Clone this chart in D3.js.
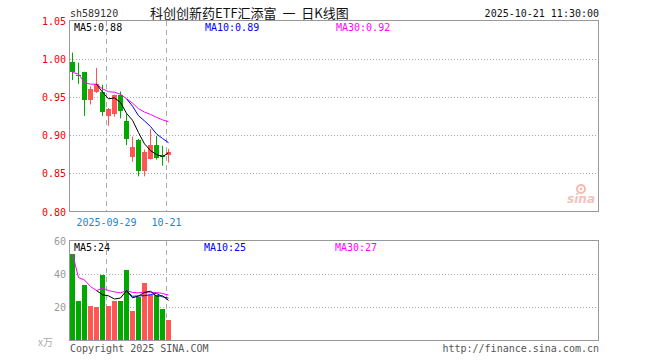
<!DOCTYPE html>
<html>
<head>
<meta charset="utf-8">
<script src="https://cdn.jsdelivr.net/npm/d3@7"></script>
<style>
  body { margin: 0; background: #fff; }
  text { font-family: "DejaVu Sans Mono", monospace; font-size: 10px; white-space: pre; }
</style>
</head>
<body>
<script>
// daily data
var dates = ["2025-09-19","2025-09-22","2025-09-23","2025-09-24","2025-09-25","2025-09-26",
  "2025-09-29","2025-09-30","2025-10-09","2025-10-10","2025-10-13","2025-10-14",
  "2025-10-15","2025-10-16","2025-10-17","2025-10-20","2025-10-21"]
var opens  = [0.996,0.979,0.982,0.946,0.956,0.957,0.925,0.927,0.952,0.918,0.871,0.894,0.853,0.869,0.887,0.874,0.8745]
var highs  = [1.008,0.995,0.983,0.964,0.988,0.966,0.9355,0.953,0.957,0.928,0.898,0.895,0.881,0.908,0.899,0.886,0.882]
var lows   = [0.972,0.967,0.925,0.940,0.955,0.925,0.912,0.924,0.922,0.887,0.865,0.846,0.846,0.868,0.868,0.860,0.864]
var closes = [0.982,0.978,0.946,0.9605,0.967,0.930,0.934,0.952,0.931,0.8955,0.885,0.853,0.878,0.887,0.870,0.871,0.878]
var volumes = [51.9,23.7,33.3,20.7,20.1,39.3,20.7,23.7,23.7,42.3,17.7,26.1,34.5,27.3,27.3,18.9,12.3]

var priceTicks = [1.05,1.00,0.95,0.90,0.85,0.80]
var volTicks = [60,40,20]
var markDays = ["2025-09-29","2025-10-21"]
var markLabels = ["2025-09-29","10-21"]

var width = 660
var height = 360
var red = "#ff5555", green = "#00a800"

var svg = d3.select("body")
  .append("svg")
    .attr("width", width)
    .attr("height", height)

// scales: one slot of 6px per trading day
var x = d3.scaleLinear().domain([0, 88]).range([70, 598])
var y = d3.scaleLinear().domain([0.80, 1.05]).range([211.5, 20.5])
var yv = d3.scaleLinear().domain([0, 60]).range([340.5, 240.5])

// moving averages (cumulative mean until the window is full for MA30)
function ma(arr, n, full) {
  return arr.map(function(d, i) {
    if (i < n - 1 && full) return null
    var s = arr.slice(Math.max(0, i - n + 1), i + 1)
    return d3.mean(s)
  })
}
var pMA5 = ma(closes, 5, true), pMA10 = ma(closes, 10, true), pMA30 = ma(closes, 30, false)
var vMA5 = ma(volumes, 5, true), vMA10 = ma(volumes, 10, true), vMA30 = ma(volumes, 30, false)

// header
svg.append("text").attr("x", 70).attr("y", 17).attr("fill", "#333").text("sh589120")
svg.append("text").attr("x", 150).attr("y", 18)
  .style("font-family", "'Noto Sans CJK SC', sans-serif").style("font-size", "13px")
  .attr("fill", "#111").text("科创创新药ETF汇添富  一  日K线图")
svg.append("text").attr("x", 599).attr("y", 17).attr("text-anchor", "end").attr("fill", "#111")
  .text("2025-10-21 11:30:00")

// grid lines
var grid = svg.append("g").attr("shape-rendering", "crispEdges")
grid.selectAll(".pg").data(priceTicks.slice(1, 5)).enter().append("line")
  .attr("x1", 70).attr("x2", 598)
  .attr("y1", function(d){ return Math.round(y(d)) + 0.5 }).attr("y2", function(d){ return Math.round(y(d)) + 0.5 })
  .attr("stroke", "#aaa").attr("stroke-dasharray", "1,2")
grid.selectAll(".vg").data([40, 20]).enter().append("line")
  .attr("x1", 70).attr("x2", 598)
  .attr("y1", function(d){ return Math.round(yv(d)) + 0.5 }).attr("y2", function(d){ return Math.round(yv(d)) + 0.5 })
  .attr("stroke", "#aaa").attr("stroke-dasharray", "1,2")

// dashed day markers through both panels
markDays.forEach(function(d) {
  var xi = x(dates.indexOf(d)) + 0.5
  grid.append("line").attr("x1", xi).attr("x2", xi).attr("y1", 21).attr("y2", 211)
    .attr("stroke", "#aaa").attr("stroke-dasharray", "5,4")
  grid.append("line").attr("x1", xi).attr("x2", xi).attr("y1", 241).attr("y2", 340)
    .attr("stroke", "#aaa").attr("stroke-dasharray", "5,4")
})

// sina watermark
var logo = svg.append("g").attr("opacity", 0.55)
logo.append("circle").attr("cx", 581).attr("cy", 189).attr("r", 4).attr("fill", "none").attr("stroke", "#f08070").attr("stroke-width", 2)
logo.append("circle").attr("cx", 581).attr("cy", 189).attr("r", 1.3).attr("fill", "#f08070")
logo.append("text").attr("x", 595).attr("y", 203).attr("text-anchor", "end")
  .style("font-family", "'DejaVu Sans', sans-serif").style("font-size", "12px")
  .style("font-weight", "bold").style("font-style", "italic")
  .attr("fill", "#e89088").text("sina")

// candles
var candles = svg.append("g").selectAll("g").data(closes).enter().append("g")
candles.append("line")
  .attr("x1", function(d, i){ return x(i) + 2.5 }).attr("x2", function(d, i){ return x(i) + 2.5 })
  .attr("y1", function(d, i){ return y(highs[i]) }).attr("y2", function(d, i){ return y(lows[i]) })
  .attr("stroke", function(d, i){ return d >= opens[i] ? red : green })
candles.append("rect")
  .attr("shape-rendering", "crispEdges")
  .attr("x", function(d, i){ return x(i) })
  .attr("width", 5)
  .attr("y", function(d, i){ return y(Math.max(d, opens[i])) })
  .attr("height", function(d, i){ return Math.max(1, Math.abs(y(d) - y(opens[i]))) })
  .attr("fill", function(d, i){ return d >= opens[i] ? red : green })

// volume bars
svg.append("g").selectAll("rect").data(volumes).enter().append("rect")
  .attr("shape-rendering", "crispEdges")
  .attr("x", function(d, i){ return x(i) })
  .attr("width", 5)
  .attr("y", function(d){ return yv(d) })
  .attr("height", function(d){ return yv(0) - yv(d) })
  .attr("fill", function(d, i){ return closes[i] >= opens[i] ? red : green })

// MA lines
function drawLine(vals, sc, color) {
  var line = d3.line()
    .defined(function(d){ return d != null })
    .x(function(d, i){ return x(i) + 2.5 })
    .y(function(d){ return sc(d) })
  svg.append("path").datum(vals).attr("d", line)
    .attr("fill", "none").attr("stroke", color).attr("stroke-width", 1)
}
drawLine(pMA30, y, "#ff00ff")
drawLine(pMA10, y, "#0000ff")
drawLine(pMA5, y, "#000")
drawLine(vMA30, yv, "#ff00ff")
drawLine(vMA10, yv, "#0000ff")
drawLine(vMA5, yv, "#000")

// frames
svg.append("rect").attr("x", 69.5).attr("y", 20.5).attr("width", 529).attr("height", 191)
  .attr("fill", "none").attr("stroke", "#999").attr("shape-rendering", "crispEdges")
svg.append("rect").attr("x", 69.5).attr("y", 240.5).attr("width", 529).attr("height", 100)
  .attr("fill", "none").attr("stroke", "#999").attr("shape-rendering", "crispEdges")

// axis labels
svg.selectAll(".pt").data(priceTicks).enter().append("text")
  .attr("x", 66).attr("y", function(d){ return y(d) + 4 })
  .attr("text-anchor", "end").attr("fill", "#ee0000")
  .text(function(d){ return d3.format(".2f")(d) })
svg.selectAll(".vt").data(volTicks).enter().append("text")
  .attr("x", 66).attr("y", function(d){ return yv(d) + 4 })
  .attr("text-anchor", "end").attr("fill", "#999")
  .text(function(d){ return d })
svg.append("text").attr("x", 53).attr("y", 346).attr("text-anchor", "end").attr("fill", "#aaa")
  .style("font-family", "'Noto Sans CJK SC', sans-serif").style("font-size", "10px").text("x万")

markDays.forEach(function(d, k) {
  svg.append("text").attr("x", x(dates.indexOf(d)) + 0.5).attr("y", 226)
    .attr("text-anchor", "middle").attr("fill", "#1a86d0").text(markLabels[k])
})

// legends
var last = closes.length - 1
svg.append("text").attr("x", 74).attr("y", 31).attr("fill", "#000").text("MA5:" + d3.format(".2f")(pMA5[last]))
svg.append("text").attr("x", 205).attr("y", 31).attr("fill", "#0000ff").text("MA10:" + d3.format(".2f")(pMA10[last]))
svg.append("text").attr("x", 336).attr("y", 31).attr("fill", "#ff00ff").text("MA30:" + d3.format(".2f")(pMA30[last]))
svg.append("text").attr("x", 74).attr("y", 251).attr("fill", "#000").text("MA5:" + Math.floor(vMA5[last]))
svg.append("text").attr("x", 204).attr("y", 251).attr("fill", "#0000ff").text("MA10:" + Math.floor(vMA10[last]))
svg.append("text").attr("x", 335).attr("y", 251).attr("fill", "#ff00ff").text("MA30:" + Math.floor(vMA30[last]))

// footer
svg.append("text").attr("x", 70).attr("y", 352).attr("fill", "#555").text("Copyright 2025 SINA.COM")
svg.append("text").attr("x", 599).attr("y", 352).attr("text-anchor", "end").attr("fill", "#555").text("http://finance.sina.com.cn")
</script>
</body>
</html>
